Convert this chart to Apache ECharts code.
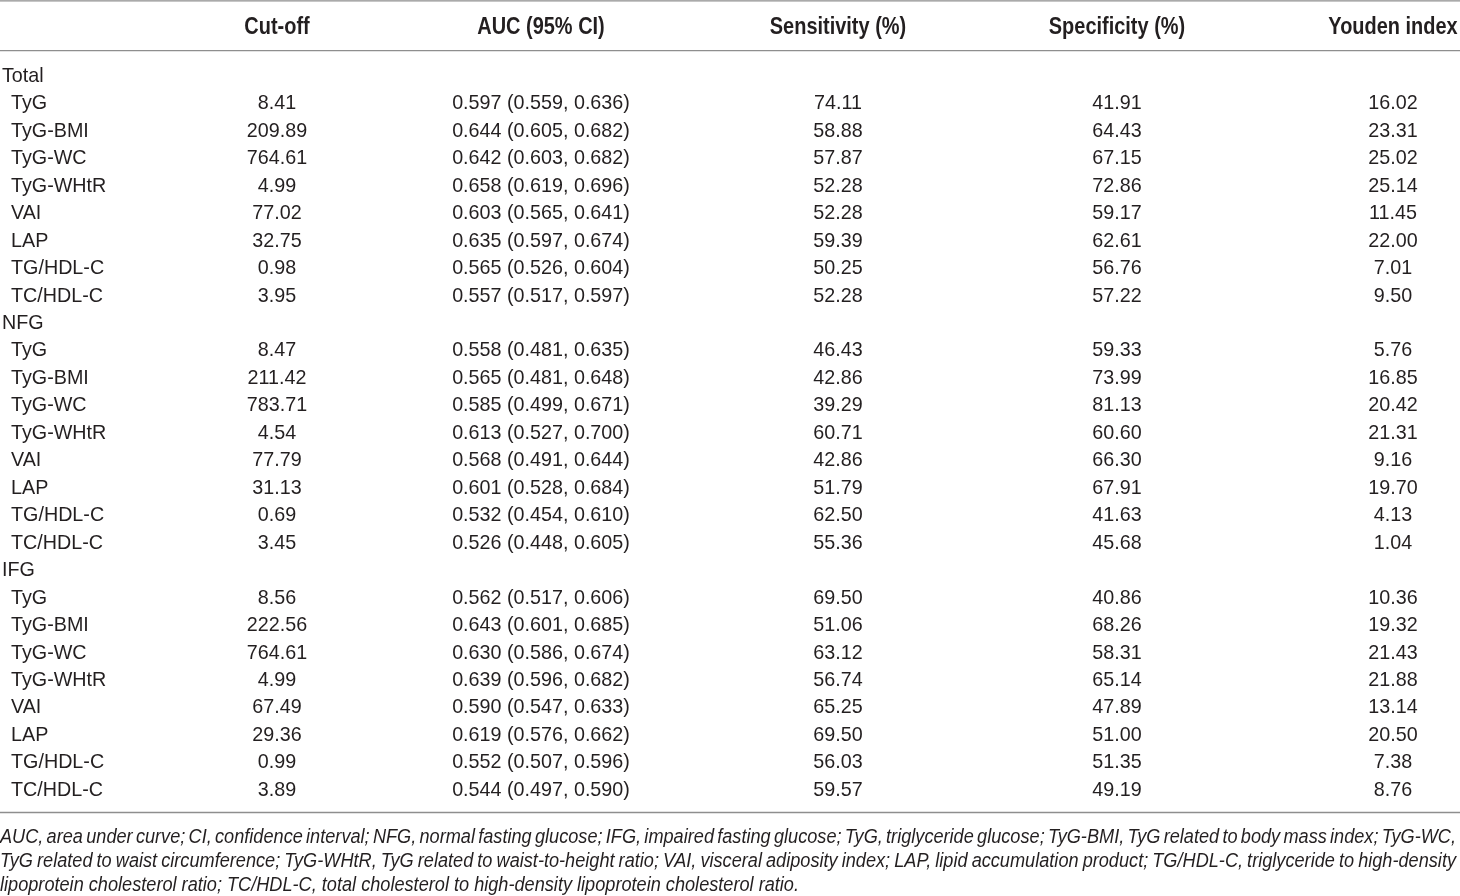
<!doctype html>
<html>

<head>
    <meta charset="utf-8">
    <title>ROC cut-off table</title>
    <script src="https://cdn.jsdelivr.net/npm/echarts@6/dist/echarts.min.js"></script>
    <style>
        html, body { margin: 0; padding: 0; background: #fff; }
        #container { width: 1460px; height: 896px; }
    </style>
</head>

<body>
    <div id="container"></div>

    <script type="text/javascript">
        // table content
        var groups = ['Total', 'NFG', 'IFG'];
        var indices = ['TyG', 'TyG-BMI', 'TyG-WC', 'TyG-WHtR', 'VAI', 'LAP', 'TG/HDL-C', 'TC/HDL-C'];
        var headers = ['', 'Cut-off', 'AUC (95% CI)', 'Sensitivity (%)', 'Specificity (%)', 'Youden index'];

        var cutOff = [
            [8.41, 209.89, 764.61, 4.99, 77.02, 32.75, 0.98, 3.95],
            [8.47, 211.42, 783.71, 4.54, 77.79, 31.13, 0.69, 3.45],
            [8.56, 222.56, 764.61, 4.99, 67.49, 29.36, 0.99, 3.89]
        ];
        var auc = [
            [0.597, 0.644, 0.642, 0.658, 0.603, 0.635, 0.565, 0.557],
            [0.558, 0.565, 0.585, 0.613, 0.568, 0.601, 0.532, 0.526],
            [0.562, 0.643, 0.630, 0.639, 0.590, 0.619, 0.552, 0.544]
        ];
        var aucLow = [
            [0.559, 0.605, 0.603, 0.619, 0.565, 0.597, 0.526, 0.517],
            [0.481, 0.481, 0.499, 0.527, 0.491, 0.528, 0.454, 0.448],
            [0.517, 0.601, 0.586, 0.596, 0.547, 0.576, 0.507, 0.497]
        ];
        var aucHigh = [
            [0.636, 0.682, 0.682, 0.696, 0.641, 0.674, 0.604, 0.597],
            [0.635, 0.648, 0.671, 0.700, 0.644, 0.684, 0.610, 0.605],
            [0.606, 0.685, 0.674, 0.682, 0.633, 0.662, 0.596, 0.590]
        ];
        var sensitivity = [
            [74.11, 58.88, 57.87, 52.28, 52.28, 59.39, 50.25, 52.28],
            [46.43, 42.86, 39.29, 60.71, 42.86, 51.79, 62.50, 55.36],
            [69.50, 51.06, 63.12, 56.74, 65.25, 69.50, 56.03, 59.57]
        ];
        var specificity = [
            [41.91, 64.43, 67.15, 72.86, 59.17, 62.61, 56.76, 57.22],
            [59.33, 73.99, 81.13, 60.60, 66.30, 67.91, 41.63, 45.68],
            [40.86, 68.26, 58.31, 65.14, 47.89, 51.00, 51.35, 49.19]
        ];
        var youden = [
            [16.02, 23.31, 25.02, 25.14, 11.45, 22.00, 7.01, 9.50],
            [5.76, 16.85, 20.42, 21.31, 9.16, 19.70, 4.13, 1.04],
            [10.36, 19.32, 21.43, 21.88, 13.14, 20.50, 7.38, 8.76]
        ];
        var footnote = [
            'AUC, area under curve; CI, confidence interval; NFG, normal fasting glucose; IFG, impaired fasting glucose; TyG, triglyceride glucose; TyG-BMI, TyG related to body mass index; TyG-WC,',
            'TyG related to waist circumference; TyG-WHtR, TyG related to waist-to-height ratio; VAI, visceral adiposity index; LAP, lipid accumulation product; TG/HDL-C, triglyceride to high-density',
            'lipoprotein cholesterol ratio; TC/HDL-C, total cholesterol to high-density lipoprotein cholesterol ratio.'
        ];

        // layout
        var W = 1460;
        var colX = [2, 277, 541, 838, 1117, 1393];
        var indent = 9;
        var family = "'Liberation Sans', Arial, sans-serif";
        var textColor = '#231f20';
        var ruleColor = '#8e8e8e';
        var bodySize = 21, headSize = 24, footSize = 19.5;

        // the printed table uses a narrow face: squeeze Liberation Sans to the measured widths
        var ctx = document.createElement('canvas').getContext('2d');
        function measure(txt, font) {
            ctx.font = font;
            return ctx.measureText(txt).width;
        }
        var bodyFont = bodySize + 'px ' + family;
        var headFont = 'bold ' + headSize + 'px ' + family;
        var footFont = 'italic ' + footSize + 'px ' + family;
        var bodyScale = 264 / (measure('0.597 (0.559, 0.636)', bodyFont) + measure('74.11', bodyFont) + measure('8.41', bodyFont));
        var headScale = 595 / headers.slice(1).reduce(function(s, h) { return s + measure(h, headFont); }, 0);
        var footScale = 799 / measure(footnote[2], footFont);

        // build rows
        var rowKeys = [];
        var nameData = [], cutData = [], aucData = [], sensData = [], specData = [], youdenData = [];
        groups.forEach(function(g, gi) {
            rowKeys.push(g);
            nameData.push([colX[0], rowKeys.length - 1, g]);
            indices.forEach(function(name, k) {
                rowKeys.push(g + '|' + name);
                var r = rowKeys.length - 1;
                nameData.push([colX[0] + indent, r, name]);
                cutData.push([colX[1], r, cutOff[gi][k].toFixed(2)]);
                aucData.push([colX[2], r, auc[gi][k].toFixed(3) + ' (' + aucLow[gi][k].toFixed(3) + ', ' + aucHigh[gi][k].toFixed(3) + ')']);
                sensData.push([colX[3], r, sensitivity[gi][k].toFixed(2)]);
                specData.push([colX[4], r, specificity[gi][k].toFixed(2)]);
                youdenData.push([colX[5], r, youden[gi][k].toFixed(2)]);
            });
        });
        var headData = headers.slice(1).map(function(h, c) {
            return [colX[c + 1], 0, h];
        });

        function textSeries(data, gridIdx, font, scale, align) {
            return {
                type: 'custom',
                coordinateSystem: 'cartesian2d',
                xAxisIndex: gridIdx,
                yAxisIndex: gridIdx,
                silent: true,
                clip: false,
                data: data.map(function(d) { return [d[0], d[1]]; }),
                renderItem: function(params, api) {
                    var pt = api.coord([api.value(0), api.value(1)]);
                    return {
                        type: 'text',
                        x: pt[0],
                        y: pt[1],
                        scaleX: scale,
                        style: {
                            text: data[params.dataIndex][2],
                            font: font,
                            fill: textColor,
                            align: align || 'center',
                            verticalAlign: 'middle'
                        }
                    };
                }
            };
        }

        // footnote, justified like the printed table notes
        var footGraphics = [];
        var footY = [838, 862, 886];
        footnote.forEach(function(line, li) {
            var words = line.split(' ');
            var ws = words.map(function(w) { return measure(w, footFont) * footScale; });
            var sum = ws.reduce(function(a, b) { return a + b; }, 0);
            var gap = li < 2 ? (1456 - sum) / (words.length - 1) : measure(' ', footFont) * footScale;
            var x = 0;
            words.forEach(function(w, i) {
                footGraphics.push({
                    type: 'text',
                    x: x,
                    y: footY[li],
                    scaleX: footScale,
                    silent: true,
                    style: { text: w, font: footFont, fill: textColor, verticalAlign: 'middle' }
                });
                x += ws[i] + gap;
            });
        });

        function rule(y) {
            return {
                type: 'line',
                silent: true,
                shape: { x1: 0, y1: y, x2: W, y2: y },
                style: { stroke: ruleColor, lineWidth: 1.3 }
            };
        }

        var option = {
            animation: false,
            backgroundColor: '#fff',
            grid: [
                { left: 0, right: 0, top: 10, height: 34 },
                { left: 0, right: 0, top: 62.27, height: 741.5 }
            ],
            xAxis: [
                { type: 'value', gridIndex: 0, min: 0, max: W, show: false },
                { type: 'value', gridIndex: 1, min: 0, max: W, show: false }
            ],
            yAxis: [
                { type: 'category', gridIndex: 0, data: ['header'], show: false },
                { type: 'category', gridIndex: 1, data: rowKeys, inverse: true, show: false }
            ],
            series: [
                textSeries(headData, 0, headFont, headScale),
                textSeries(nameData, 1, bodyFont, bodyScale, 'left'),
                textSeries(cutData, 1, bodyFont, bodyScale),
                textSeries(aucData, 1, bodyFont, bodyScale),
                textSeries(sensData, 1, bodyFont, bodyScale),
                textSeries(specData, 1, bodyFont, bodyScale),
                textSeries(youdenData, 1, bodyFont, bodyScale)
            ],
            graphic: [rule(0.8), rule(50.7), rule(812.5)].concat(footGraphics)
        };

        var myChart = echarts.init(document.getElementById('container'));
        myChart.setOption(option);
    </script>
</body>

</html>
